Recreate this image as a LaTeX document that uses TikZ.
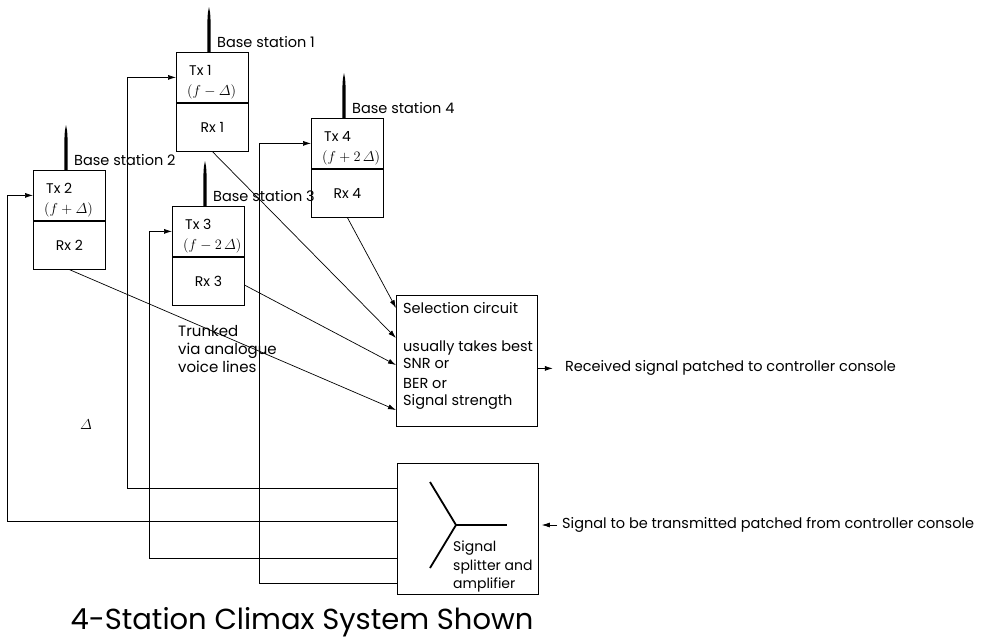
\documentclass[tikz,border=0pt]{standalone}
\usepackage{fontspec}
\setmainfont{Poppins}
\usetikzlibrary{arrows.meta,calc,positioning}

\tikzset{
  stn/.style={draw,line width=0.8pt,minimum width=72pt,inner sep=0pt,font=\fontsize{14}{16}\selectfont},
  lbl/.style={font=\fontsize{14.5}{16}\selectfont,inner sep=0pt},
  wire/.style={line width=0.7pt},
  tip/.style={-{Latex[length=8pt,width=5pt]}},
}
\newcommand{\dlt}{\mathnormal{\Delta}}

\begin{document}
\begin{tikzpicture}[x=1pt,y=-1pt]
\useasboundingbox (0,0) rectangle (995,643);
% base stations
\foreach \s/\x/\y/\f in {1/176/52/{f-\dlt},2/33/170/{f+\dlt},3/172/206/{f-2\,\dlt},4/311/118/{f+2\,\dlt}}{
  \node[stn,minimum height=50pt,anchor=north west] (tx\s) at (\x,\y) {};
  \node[stn,minimum height=48pt,anchor=north] (rx\s) at (tx\s.south) {Rx \s};
  \draw[line width=1.6pt] (tx\s.south west) -- (tx\s.south east);
  \node[lbl,anchor=base west,font=\fontsize{14}{16}\selectfont] (txl\s) at ($(tx\s.north west)+(13,23)$) {Tx \s};
  \node[lbl,anchor=base west,font=\fontsize{14}{16}\selectfont] (fq\s) at ($(tx\s.north west)+(11,43)$) {$(\f)$};
  \coordinate (ant\s) at ($(tx\s.north west)+(33,0)$);
  \fill ($(ant\s)+(-1.7,0)$) -- ($(ant\s)+(-1.7,-28)$) .. controls ($(ant\s)+(-1.2,-40)$) .. ($(ant\s)+(0,-45)$)
    .. controls ($(ant\s)+(1.2,-40)$) .. ($(ant\s)+(1.7,-28)$) -- ($(ant\s)+(1.7,0)$) -- cycle;
  \node[lbl,anchor=base west] (bs\s) at ($(ant\s)+(8,-5)$) {Base station \s};
}

% selection circuit
\node[draw,line width=0.8pt,minimum width=141pt,minimum height=131pt,anchor=north west] (sel) at (396,295) {};
\foreach \t/\yy [count=\i] in {Selection circuit/313,usually takes best/351,SNR or/368,BER or/388,Signal strength/405}
  \node[lbl,anchor=base west] (sel\i) at (403,\yy) {\t};
\draw[wire,tip] (rx4.south) -- ($(sel.north west)+(0,13)$);
\draw[wire,tip] (rx1.south) -- ($(sel.north west)+(0,43)$);
\draw[wire,tip] ($(rx3.east)+(0,4)$) -- ($(sel.north west)+(0,70)$);
\draw[wire,tip] (rx2.south) -- ($(sel.north west)+(0,115)$);
\node[lbl,anchor=west] (out) at ($(sel.east)+(27,7.5)$) {Received signal patched to controller console};
\draw[wire,tip] ($(sel.east)+(0,7.5)$) -- ($(out.west)+(-12,0)$);

% splitter and amplifier
\node[draw,line width=0.8pt,minimum width=141pt,minimum height=131pt,anchor=north west] (spl) at (397,463) {};
\coordinate (hub) at ($(spl.north west)+(59,62)$);
\draw[line width=1.8pt] ($(hub)+(-26,-43)$) -- (hub) -- ($(hub)+(-26,43)$);
\draw[line width=2.8pt] (hub) -- ++(51,0);
\foreach \t/\yy [count=\i] in {Signal/551,splitter and/570,amplifier/588}
  \node[lbl,anchor=base west,font=\fontsize{14}{16}\selectfont] (spl\i) at (453,\yy) {\t};
\node[lbl,anchor=west] (inp) at (562,525) {Signal to be transmitted patched from controller console};
\draw[wire,tip] ($(inp.west)+(-5,0)$) -- ($(inp.west -| spl.east)+(3,0)$);

% feeds to the transmitters
\coordinate (bus1) at (127,0);
\coordinate (bus2) at (7,0);
\coordinate (bus3) at (149,0);
\coordinate (bus4) at (259,0);
\foreach \s/\dy in {1/25,2/58,3/95,4/120}
  \draw[wire,tip] ($(spl.north west)+(0,\dy)$) -| (bus\s |- tx\s.west) -- (tx\s.west);

\foreach \t/\yy [count=\i] in {Trunked/336,via analogue/354,voice lines/372}
  \node[lbl,anchor=base west,font=\fontsize{15}{17}\selectfont] (trk\i) at (178,\yy) {\t};
\node[lbl] (dl) at (86,425) {$\dlt$};
\node[font=\fontsize{29}{32}\selectfont] (title) at (302,622) {4-Station Climax System Shown};
\end{tikzpicture}
\end{document}
